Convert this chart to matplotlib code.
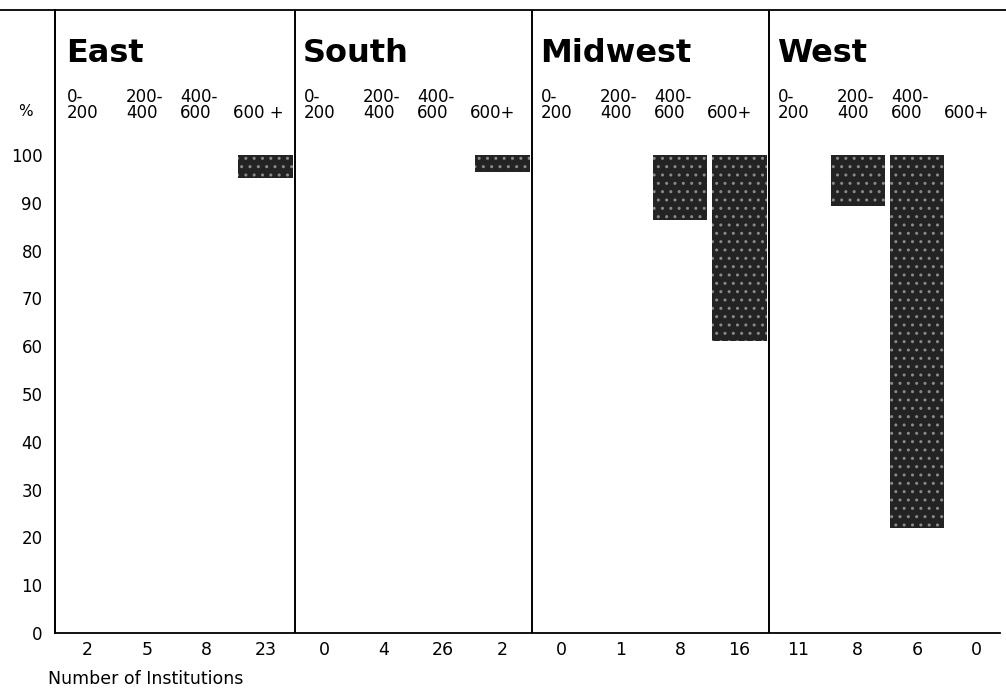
import matplotlib
matplotlib.use("Agg")
import matplotlib.pyplot as plt
from matplotlib.lines import Line2D

# ---------------- data ----------------
regions = ["East", "South", "Midwest", "West"]
size_line1 = ["0-", "200-", "400-", ""]
size_line2 = ["200", "400", "600", "600+"]
size_line2_east = ["200", "400", "600", "600 +"]

# number of institutions per region / size class
counts_east = [2, 5, 8, 23]
counts_south = [0, 4, 26, 2]
counts_midwest = [0, 1, 8, 16]
counts_west = [11, 8, 6, 0]

# bars hang from 100% down to these values (None = no bar)
low_east = [None, None, None, 95.2]
low_south = [None, None, None, 96.4]
low_midwest = [None, None, 86.4, 61.1]
low_west = [None, 89.3, 22.0, None]
bar_top = 100

yticks = [0, 10, 20, 30, 40, 50, 60, 70, 80, 90, 100]

counts = [counts_east, counts_south, counts_midwest, counts_west]
lows = [low_east, low_south, low_midwest, low_west]

# ---------------- figure ----------------
plt.rcParams["font.family"] = ["DejaVu Sans"]
W, H = 1006, 700
fig = plt.figure(figsize=(W / 100, H / 100), dpi=100)
ax = fig.add_axes([55 / W, 67 / H, 945 / W, 623 / H])
ax.set_xlim(-0.05, 15.9)
ax.set_ylim(0, 623 / 4.78)

for s in ["top", "right"]:
    ax.spines[s].set_visible(False)
ax.spines["left"].set_linewidth(1.3)
ax.spines["bottom"].set_linewidth(1.3)

bar_color = "#232323"
for r, region in enumerate(regions):
    base = r * 4
    if r > 0:
        ax.axvline(base, color="black", lw=1.4)
    # panel title
    ax.text(base + 0.13, 119.5, region, fontsize=23, fontweight="bold",
            ha="left", va="baseline")
    offs = [0.15, 0.15, 0.06, -0.05]
    line2 = size_line2_east if r == 0 else size_line2
    for i in range(4):
        x0 = base + i + offs[i]
        if size_line1[i]:
            ax.text(x0, 111.1, size_line1[i], fontsize=12, ha="left", va="baseline")
        ax.text(x0, 107.7, line2[i], fontsize=12, ha="left", va="baseline")
        lo = lows[r][i]
        if lo is not None:
            ax.bar(base + i + 0.5, bar_top - lo, bottom=lo, width=0.92,
                   color=bar_color, edgecolor="#8a8a8a", linewidth=0,
                   hatch="..")

# x tick labels = number of institutions
xt = [i + 0.5 for i in range(16)]
xl = [str(c) for reg in counts for c in reg]
ax.set_xticks(xt)
ax.set_xticklabels(xl, fontsize=12.5)
ax.tick_params(axis="x", length=0, pad=6)

ax.set_yticks(yticks)
ax.set_yticklabels([str(v) for v in yticks], fontsize=12)
ax.tick_params(axis="y", length=0, pad=9)

# top border line across the page
fig.add_artist(Line2D([0, 1], [1 - 10 / H, 1 - 10 / H], transform=fig.transFigure,
                      color="black", lw=1.3))
ax.plot([-0.05, -0.05], [0, 623 / 4.78], color="black", lw=1.3, clip_on=False)
for r in range(1, 4):
    pass

fig.text(33 / W, 1 - 112 / H, "%", fontsize=11, ha="right", va="center")
fig.text(48 / W, 1 - 679 / H, "Number of Institutions", fontsize=12.5,
         ha="left", va="center")

fig.savefig("out.png", dpi=100)
